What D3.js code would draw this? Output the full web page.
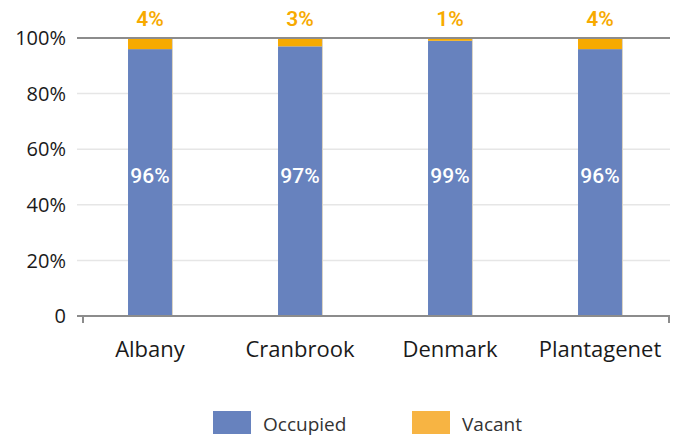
<!DOCTYPE html>
<html><head><meta charset="utf-8">
<script src="https://cdn.jsdelivr.net/npm/d3@7"></script>
<style>body{margin:0;background:#fff}svg{display:block}</style>
</head><body>
<svg id="c" width="676" height="439"></svg>
<script>
const categories = ["Albany", "Cranbrook", "Denmark", "Plantagenet"];
const occupied = [96, 97, 99, 96];
const vacant = [4, 3, 1, 4];
const yTicks = [0, 20, 40, 60, 80, 100];
const seriesNames = ["Occupied", "Vacant"];

(function () {
const svg = d3.select("#c");
const mLeft = 77, mRight = 670, mTop = 38, mBottom = 316;
const x = d3.scaleBand().domain(categories).range([75, 675]).paddingInner(0.707).paddingOuter(0.3535);
const y = d3.scaleLinear().domain([0, 100]).range([mBottom, mTop]);
const blue = "#6782be", orange = "#f7aa00", orangeLegend = "#f7b443";
const font = "'Open Sans', 'Noto Sans', sans-serif";

// gridlines
svg.append("g").selectAll("line").data(yTicks.filter(d => d > 0 && d < 100)).join("line")
  .attr("x1", mLeft).attr("x2", mRight).attr("y1", d => y(d)).attr("y2", d => y(d))
  .attr("stroke", "#e6e6e6").attr("stroke-width", 1.5);

// bars
const stack = categories.map((c, i) => ({c, occ: occupied[i], vac: vacant[i]}));
const g = svg.append("g");
g.selectAll("rect.occ").data(stack).join("rect").attr("class", "occ")
  .attr("x", d => x(d.c)).attr("width", x.bandwidth())
  .attr("y", d => y(d.occ)).attr("height", d => y(0) - y(d.occ)).attr("fill", blue);
g.selectAll("rect.vac").data(stack).join("rect").attr("class", "vac")
  .attr("x", d => x(d.c)).attr("width", x.bandwidth())
  .attr("y", d => y(d.occ + d.vac)).attr("height", d => y(d.occ) - y(d.occ + d.vac)).attr("fill", orange);
g.selectAll("line.edge").data(stack).join("line").attr("class", "edge")
  .attr("x1", d => x(d.c) + x.bandwidth() + 0.5).attr("x2", d => x(d.c) + x.bandwidth() + 0.5)
  .attr("y1", d => y(d.occ + d.vac)).attr("y2", y(0))
  .attr("stroke", "#d8d2c4").attr("stroke-width", 1);

// top & bottom axis lines
svg.append("line").attr("x1", mLeft).attr("x2", mRight).attr("y1", y(100)).attr("y2", y(100))
  .attr("stroke", "#8c8c8c").attr("stroke-width", 2);
svg.append("line").attr("x1", mLeft).attr("x2", mRight).attr("y1", y(0)).attr("y2", y(0))
  .attr("stroke", "#8c8c8c").attr("stroke-width", 2);
svg.append("g").selectAll("line").data([mLeft + 6, mRight - 1]).join("line")
  .attr("x1", d => d).attr("x2", d => d).attr("y1", y(0)).attr("y2", y(0) + 7)
  .attr("stroke", "#8c8c8c").attr("stroke-width", 2);

// y labels
svg.append("g").selectAll("text").data(yTicks).join("text")
  .attr("x", 66).attr("y", d => y(d)).attr("dy", "0.36em").attr("text-anchor", "end")
  .attr("font-family", font).attr("font-size", 20).attr("fill", "#1a1a1a")
  .text(d => d === 0 ? "0" : d + "%");

// x labels
svg.append("g").selectAll("text").data(categories).join("text")
  .attr("x", d => x(d) + x.bandwidth() / 2).attr("y", 357).attr("text-anchor", "middle")
  .attr("font-family", font).attr("font-size", 22).attr("fill", "#1a1a1a").text(d => d);

// value labels (centred on the full stacked column)
svg.append("g").selectAll("text").data(stack).join("text")
  .attr("x", d => x(d.c) + x.bandwidth() / 2).attr("y", d => y((d.occ + d.vac) / 2)).attr("dy", "0.28em")
  .attr("text-anchor", "middle").attr("font-family", "Roboto, sans-serif").attr("font-size", 21)
  .attr("font-weight", 500).attr("fill", "#fff")
  .text(d => d.occ + "%");
svg.append("g").selectAll("text").data(stack).join("text")
  .attr("x", d => x(d.c) + x.bandwidth() / 2).attr("y", 26)
  .attr("text-anchor", "middle").attr("font-family", "Roboto, sans-serif").attr("font-size", 21)
  .attr("font-weight", 600).attr("fill", orange)
  .text(d => d.vac + "%");

// legend
const legX = [213, 412];
const legColors = [blue, orangeLegend];
const lg = svg.append("g").selectAll("g").data(seriesNames).join("g")
  .attr("transform", (d, i) => `translate(${legX[i]},411)`);
lg.append("rect").attr("width", 38).attr("height", 23).attr("fill", (d, i) => legColors[i]);
lg.append("text").attr("x", 50).attr("y", 20).attr("font-family", font).attr("font-size", 19)
  .attr("fill", "#333").text(d => d);
})();
</script>
</body></html>
